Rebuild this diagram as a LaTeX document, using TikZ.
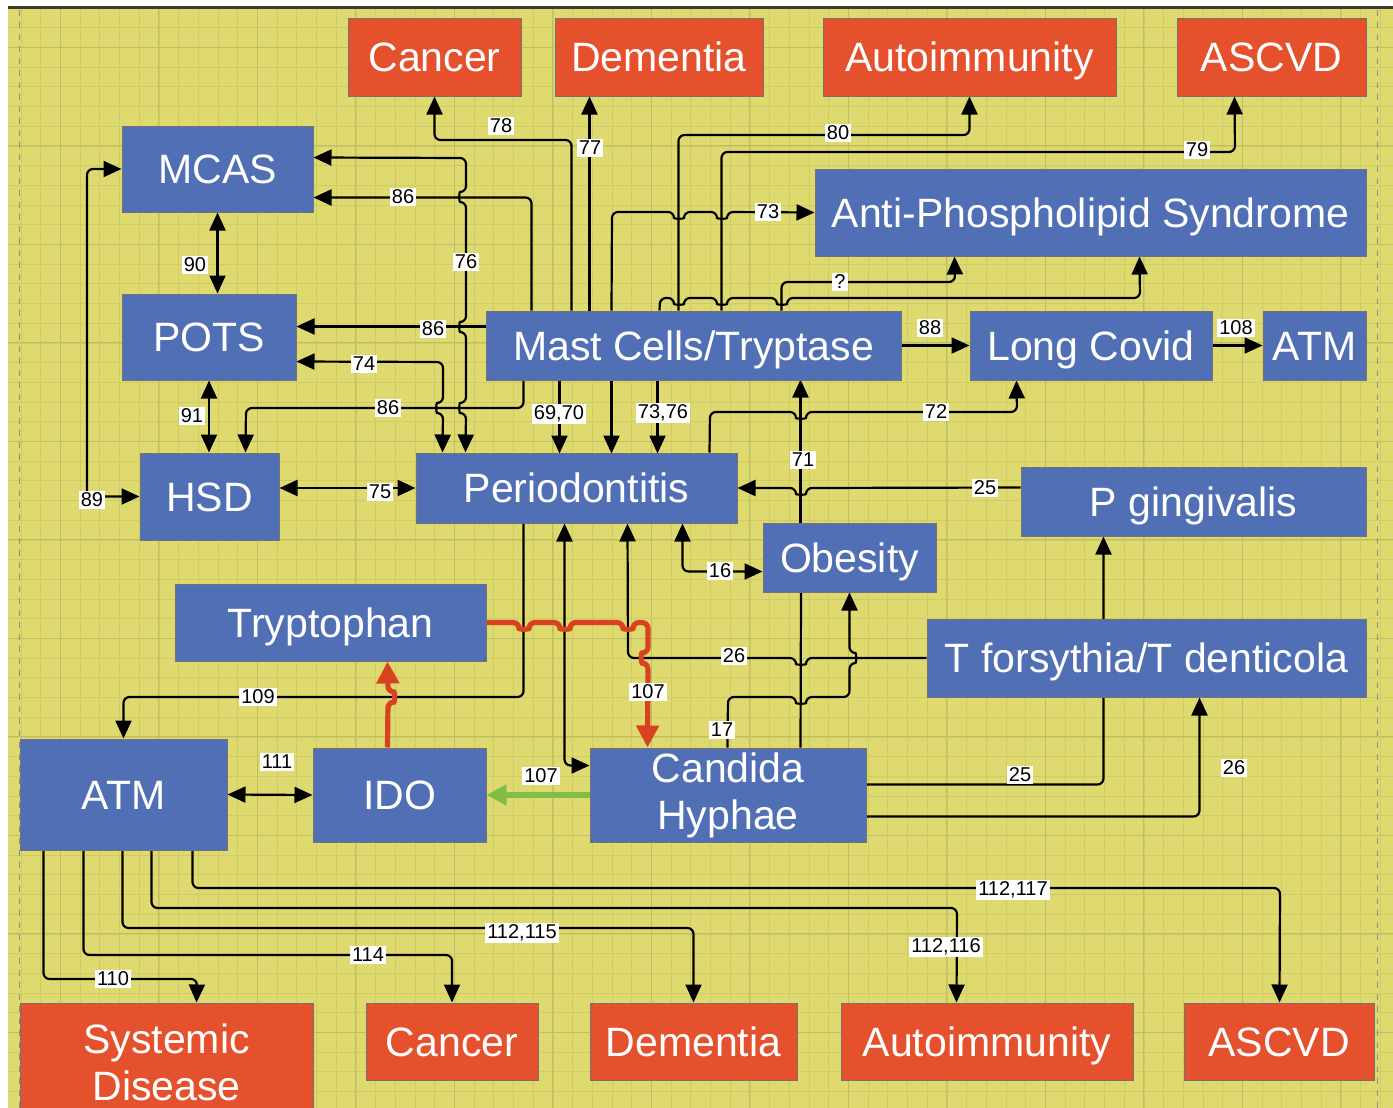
\documentclass[tikz,border=0pt]{standalone}
\usepackage{fontspec}
\setmainfont{Liberation Sans}
\usepackage{tikz}
\usetikzlibrary{positioning,arrows.meta,calc}
\pgfdeclarelayer{grid}
\pgfdeclarelayer{wires}
\pgfsetlayers{grid,wires,main}

\definecolor{paper}{RGB}{222,218,112}
\definecolor{gridminor}{RGB}{207,204,104}
\definecolor{gridmajor}{RGB}{192,190,98}
\definecolor{boxblue}{RGB}{80,111,181}
\definecolor{boxred}{RGB}{229,80,45}
\definecolor{arrowred}{RGB}{216,66,32}
\definecolor{arrowgreen}{RGB}{128,190,72}

\newcommand{\boxfont}{\fontsize{20.5}{23.5}\selectfont}
\newcommand{\numfont}{\fontsize{10}{11}\selectfont}

% line hops: right, left, down, up
\newcommand{\hopR}[2]{-- ({#1-5},#2) .. controls ({#1-5},{#2+7}) and ({#1+5},{#2+7}) .. ({#1+5},#2)}
\newcommand{\hopL}[2]{-- ({#1+5},#2) .. controls ({#1+5},{#2+7}) and ({#1-5},{#2+7}) .. ({#1-5},#2)}
\newcommand{\hopD}[2]{-- (#1,{#2-5}) .. controls ({#1-7},{#2-5}) and ({#1-7},{#2+5}) .. (#1,{#2+5})}
\newcommand{\hopU}[2]{-- (#1,{#2+5}) .. controls ({#1+7},{#2+5}) and ({#1+7},{#2-5}) .. (#1,{#2-5})}

\begin{document}
\begin{tikzpicture}[x=0.5pt, y=-0.5pt, >={Triangle[length=9pt,width=8pt]}]
    % Styles
    \tikzstyle{bluebox}=[rectangle, draw=black!55, line width=0.5pt, fill=boxblue, text=white, font=\boxfont, align=center, inner sep=0pt]
    \tikzstyle{redbox}=[rectangle, draw=black!55, line width=0.5pt, fill=boxred, text=white, font=\boxfont, align=center, inner sep=0pt]
    \tikzstyle{oneline}=[text height=14.7pt, text depth=0pt]
    \tikzstyle{wire}=[line width=1.1pt, rounded corners=3pt]
    \tikzstyle{redwire}=[line width=2.6pt, draw=arrowred, rounded corners=3pt, -{Triangle[length=11pt,width=11pt]}]
    \tikzstyle{greenwire}=[line width=2.6pt, draw=arrowgreen, -{Triangle[length=10pt,width=10pt]}]
    \tikzstyle{reflabel}=[fill=white, inner sep=1pt, font=\numfont]

    \useasboundingbox (0,0) rectangle (1393,1108);
    \clip (0,0) rectangle (1393,1108);

    % Sheet and grid
    \begin{pgfonlayer}{grid}
    \fill[white] (0,0) rectangle (1393,1108);
    \fill[paper] (8,8) rectangle (1393,1108);
    \foreach \i in {0,...,69} {
        \draw[gridminor, line width=0.35pt] ({21+19.7*\i},8) -- ({21+19.7*\i},1108);
    }
    \foreach \i in {0,...,56} {
        \draw[gridminor, line width=0.35pt] (8,{8+19.7*\i}) -- (1393,{8+19.7*\i});
    }
    \foreach \i in {0,...,13} {
        \draw[gridmajor, line width=0.5pt] ({60.4+98.5*\i},8) -- ({60.4+98.5*\i},1108);
    }
    \foreach \i in {0,...,11} {
        \draw[gridmajor, line width=0.5pt] (8,{47.4+98.5*\i}) -- (1393,{47.4+98.5*\i});
    }
    \draw[black!45, dashed, line width=0.4pt] (19,10) -- (19,1108);
    \draw[black!45, dashed, line width=0.4pt] (1377,10) -- (1377,1108);
    \draw[black!75!olive, line width=1.5pt] (8,7) -- (1393,7);
    \end{pgfonlayer}

    % Top row
    \node (canc1) [redbox, oneline, minimum width=86.5pt, minimum height=39pt] at (434.5,57) {Cancer};
    \node (dem1) [redbox, oneline, minimum width=104pt, minimum height=39pt] at (659,57) {Dementia};
    \node (auto1) [redbox, oneline, minimum width=146.5pt, minimum height=39pt] at (969.5,57) {Autoimmunity};
    \node (ascvd1) [redbox, oneline, minimum width=94.5pt, minimum height=39pt] at (1271.5,57) {ASCVD};

    % Middle blocks
    \node (mcas) [bluebox, oneline, minimum width=95.5pt, minimum height=43pt] at (217.5,169) {MCAS};
    \node (pots) [bluebox, oneline, minimum width=87pt, minimum height=43pt] at (209,337) {POTS};
    \node (hsd) [bluebox, oneline, minimum width=69.5pt, minimum height=43.5pt] at (209.5,496.5) {HSD};
    \node (aps) [bluebox, oneline, minimum width=275.5pt, minimum height=43.5pt] at (1090.5,212.5) {Anti-Phospholipid Syndrome};
    \node (mast) [bluebox, oneline, minimum width=207.5pt, minimum height=34.5pt] at (693.5,345.5) {Mast Cells/Tryptase};
    \node (lcov) [bluebox, oneline, minimum width=121pt, minimum height=34.5pt] at (1091,345.5) {Long Covid};
    \node (atmA) [bluebox, oneline, minimum width=51.5pt, minimum height=34.5pt] at (1314.5,345.5) {ATM};
    \node (perio) [bluebox, oneline, minimum width=160.5pt, minimum height=35pt] at (576.5,488) {Periodontitis};
    \node (pging) [bluebox, oneline, minimum width=172.5pt, minimum height=34.5pt] at (1193.5,501.5) {P gingivalis};
    \node (obes) [bluebox, oneline, minimum width=86.5pt, minimum height=34.5pt] at (849.5,557.5) {Obesity};
    \node (trp) [bluebox, oneline, minimum width=155.5pt, minimum height=38.5pt] at (330.5,622.5) {Tryptophan};
    \node (tftd) [bluebox, oneline, minimum width=219.5pt, minimum height=39pt] at (1146.5,658) {T forsythia/T denticola};
    \node (atmB) [bluebox, oneline, minimum width=103.5pt, minimum height=55.5pt] at (123.5,794.5) {ATM};
    \node (ido) [bluebox, oneline, minimum width=86.5pt, minimum height=47pt] at (399.5,795) {IDO};
    \node (cand) [bluebox, minimum width=138pt, minimum height=47pt] at (728,795) {Candida\\Hyphae};

    % Bottom row
    \node (sysd) [redbox, minimum width=146.5pt, minimum height=59pt] at (166.5,1062) {Systemic\\Disease};
    \node (canc2) [redbox, oneline, minimum width=86pt, minimum height=38.5pt] at (452,1041.5) {Cancer};
    \node (dem2) [redbox, oneline, minimum width=103.5pt, minimum height=38.5pt] at (693.5,1041.5) {Dementia};
    \node (auto2) [redbox, oneline, minimum width=146pt, minimum height=38.5pt] at (987,1041.5) {Autoimmunity};
    \node (ascvd2) [redbox, oneline, minimum width=95pt, minimum height=38.5pt] at (1279,1041.5) {ASCVD};

    \begin{pgfonlayer}{wires}
    % Mast cells up to the top row
    \draw[wire,->] ($(mast.north west)+(86,0)$) |- (434.5,140) -- (canc1.south);
    \draw[wire,->] ($(mast.north west)+(104,0)$) -- ($(dem1.south west)+(35,0)$);
    \draw[wire,->] ($(mast.north west)+(193,0)$) |- (969.5,135) -- (auto1.south);
    \draw[wire,->] ($(mast.north west)+(236,0)$) |- (1235,152) -- ($(ascvd1.south west)+(58,0)$);
    \draw[wire,->] ($(mast.north west)+(126,0)$) -- (612,212) \hopR{679}{212} \hopR{722}{212} -- (aps.west);
    \draw[wire,->] ($(mast.north west)+(296,0)$) |- (955,282) -- ($(aps.south west)+(140,0)$);
    \draw[wire,->] ($(mast.north west)+(174,0)$) -- (660,298) \hopR{679}{298} \hopR{722}{298} \hopR{782}{298} -- (1140,298) -- ($(aps.south west)+(325,0)$);

    % MCAS, POTS, HSD
    \draw[wire,->] ($(mast.north west)+(46,0)$) |- ($(mcas.south east)+(0,-15)$);
    \draw[wire,<->] ($(mcas.north east)+(0,32)$) -- (466,158) \hopD{466}{197} \hopD{466}{327} \hopD{466}{408} -- ($(perio.north west)+(50,0)$);
    \draw[wire,->] ($(mast.north west)+(0,16)$) -- ($(pots.north east)+(0,33)$);
    \draw[wire,<->] ($(pots.north east)+(0,68)$) -- (443,362) \hopD{443}{408} -- ($(perio.north west)+(27,0)$);
    \draw[wire,->] ($(mast.south west)+(38,0)$) |- (246,408) -- ($(hsd.north west)+(106,0)$);
    \draw[wire,<->] (mcas.south) -- (mcas.south |- pots.north);
    \draw[wire,<->] (pots.south) -- (pots.south |- hsd.north);
    \draw[wire,<->] (mcas.west) -| (87,496.5) -- (hsd.west);
    \draw[wire,<->] (perio.west -| hsd.east) -- (perio.west);

    % Mast cells down to Periodontitis and across
    \foreach \dx in {74,126,172}
        \draw[wire,->] ($(mast.south west)+(\dx,0)$) -- ++(0,73);
    \draw[wire,->] (mast.east) -- (lcov.west);
    \draw[wire,->] (lcov.east) -- (atmA.west);
    \draw[wire,->] ($(perio.north west)+(294,0)$) -- (710,412) \hopR{801}{412} -- (1017,412) -- ($(lcov.south west)+(47,0)$);
    \draw[wire,->] ($(obes.north west)+(38,0)$) -- ++(0,-143);
    \draw[wire,->] ($(pging.north west)+(0,21)$) \hopL{801}{488} -- (perio.east);
    \draw[wire,<->] ($(perio.south west)+(267,0)$) |- ($(obes.south west)+(0,-21)$);

    % Periodontitis down
    \draw[wire,->] ($(perio.south west)+(108,0)$) |- (123.5,697) -- (atmB.north);
    \draw[wire,<->] ($(perio.south west)+(149,0)$) |- ($(cand.north west)+(0,18)$);
    \draw[wire,->] (tftd.west) \hopL{801}{658} -- (628,658) -- ($(perio.south west)+(212,0)$);
    \draw[wire,->] ($(cand.north west)+(138,0)$) -- (728,697) \hopR{801}{697} -- (849.5,697) \hopU{849.5}{658} -- (obes.south);
    \draw[wire] ($(cand.north west)+(211,0)$) -- (obes.south -| 801,0);

    % Tryptophan / IDO loop
    \draw[redwire] (trp.east) \hopR{524}{622.5} \hopR{565}{622.5} \hopR{628}{622.5} -- (648,622.5) \hopD{648}{658} -- ($(cand.north west)+(58,0)$);
    \draw[redwire] ($(ido.north west)+(75,0)$) \hopU{388}{697} -- ($(trp.south west)+(213,0)$);
    \draw[greenwire] (cand.west) -- (ido.east);
    \draw[wire,<->] (atmB.east) -- (ido.west);
    \draw[wire,->] ($(cand.north east)+(0,37)$) -| ($(pging.south west)+(83,0)$);
    \draw[wire,->] ($(cand.north east)+(0,69)$) -| ($(tftd.south west)+(273,0)$);

    % ATM to the bottom row
    \draw[wire,->] ($(atmB.south west)+(24,0)$) |- (197,979) -- ($(sysd.north west)+(177,0)$);
    \draw[wire,->] ($(atmB.south west)+(64,0)$) |- (452,955) -- (canc2.north);
    \draw[wire,->] ($(atmB.south west)+(103,0)$) |- (693.5,928) -- (dem2.north);
    \draw[wire,->] ($(atmB.south west)+(132,0)$) |- (957,908) -- ($(auto2.north west)+(116,0)$);
    \draw[wire,->] ($(atmB.south west)+(173,0)$) |- (1280,888) -- ($(ascvd2.north west)+(96,0)$);
    \end{pgfonlayer}

    % Reference numbers
    \node[reflabel] (n78) at (501,126) {78};
    \node[reflabel] (n77) at (590,148) {77};
    \node[reflabel] (n80) at (838,133) {80};
    \node[reflabel] (n79) at (1197,150) {79};
    \node[reflabel] (n73) at (768,212) {73};
    \node[reflabel] (nq) at (840,282) {?};
    \node[reflabel] (n86a) at (403,197) {86};
    \node[reflabel] (n76) at (466,262) {76};
    \node[reflabel] (n86b) at (433,329) {86};
    \node[reflabel] (n74) at (364,364) {74};
    \node[reflabel] (n86c) at (388,408) {86};
    \node[reflabel] (n90) at (195,265) {90};
    \node[reflabel] (n91) at (192,416) {91};
    \node[reflabel] (n89) at (92,500) {89};
    \node[reflabel] (n75) at (380,492) {75};
    \node[reflabel] (n6970) at (559,414) {69,70};
    \node[reflabel] (n7376) at (663,413) {73,76};
    \node[reflabel] (n88) at (930,328) {88};
    \node[reflabel] (n108) at (1236,328) {108};
    \node[reflabel] (n72) at (936,412) {72};
    \node[reflabel] (n71) at (803,460) {71};
    \node[reflabel] (n25a) at (985,488) {25};
    \node[reflabel] (n16) at (720,571) {16};
    \node[reflabel] (n109) at (258,697) {109};
    \node[reflabel] (n26a) at (734,656) {26};
    \node[reflabel] (n107a) at (648,692) {107};
    \node[reflabel] (n17) at (722,730) {17};
    \node[reflabel] (n107b) at (541,776) {107};
    \node[reflabel] (n111) at (277,762) {111};
    \node[reflabel] (n25b) at (1020,775) {25};
    \node[reflabel] (n26b) at (1234,768) {26};
    \node[reflabel] (n110) at (113,979) {110};
    \node[reflabel] (n114) at (368,955) {114};
    \node[reflabel] (n112a) at (522,933) {112,115};
    \node[reflabel] (n112b) at (946,947) {112,116};
    \node[reflabel] (n112c) at (1013,890) {112,117};
\end{tikzpicture}
\end{document}
